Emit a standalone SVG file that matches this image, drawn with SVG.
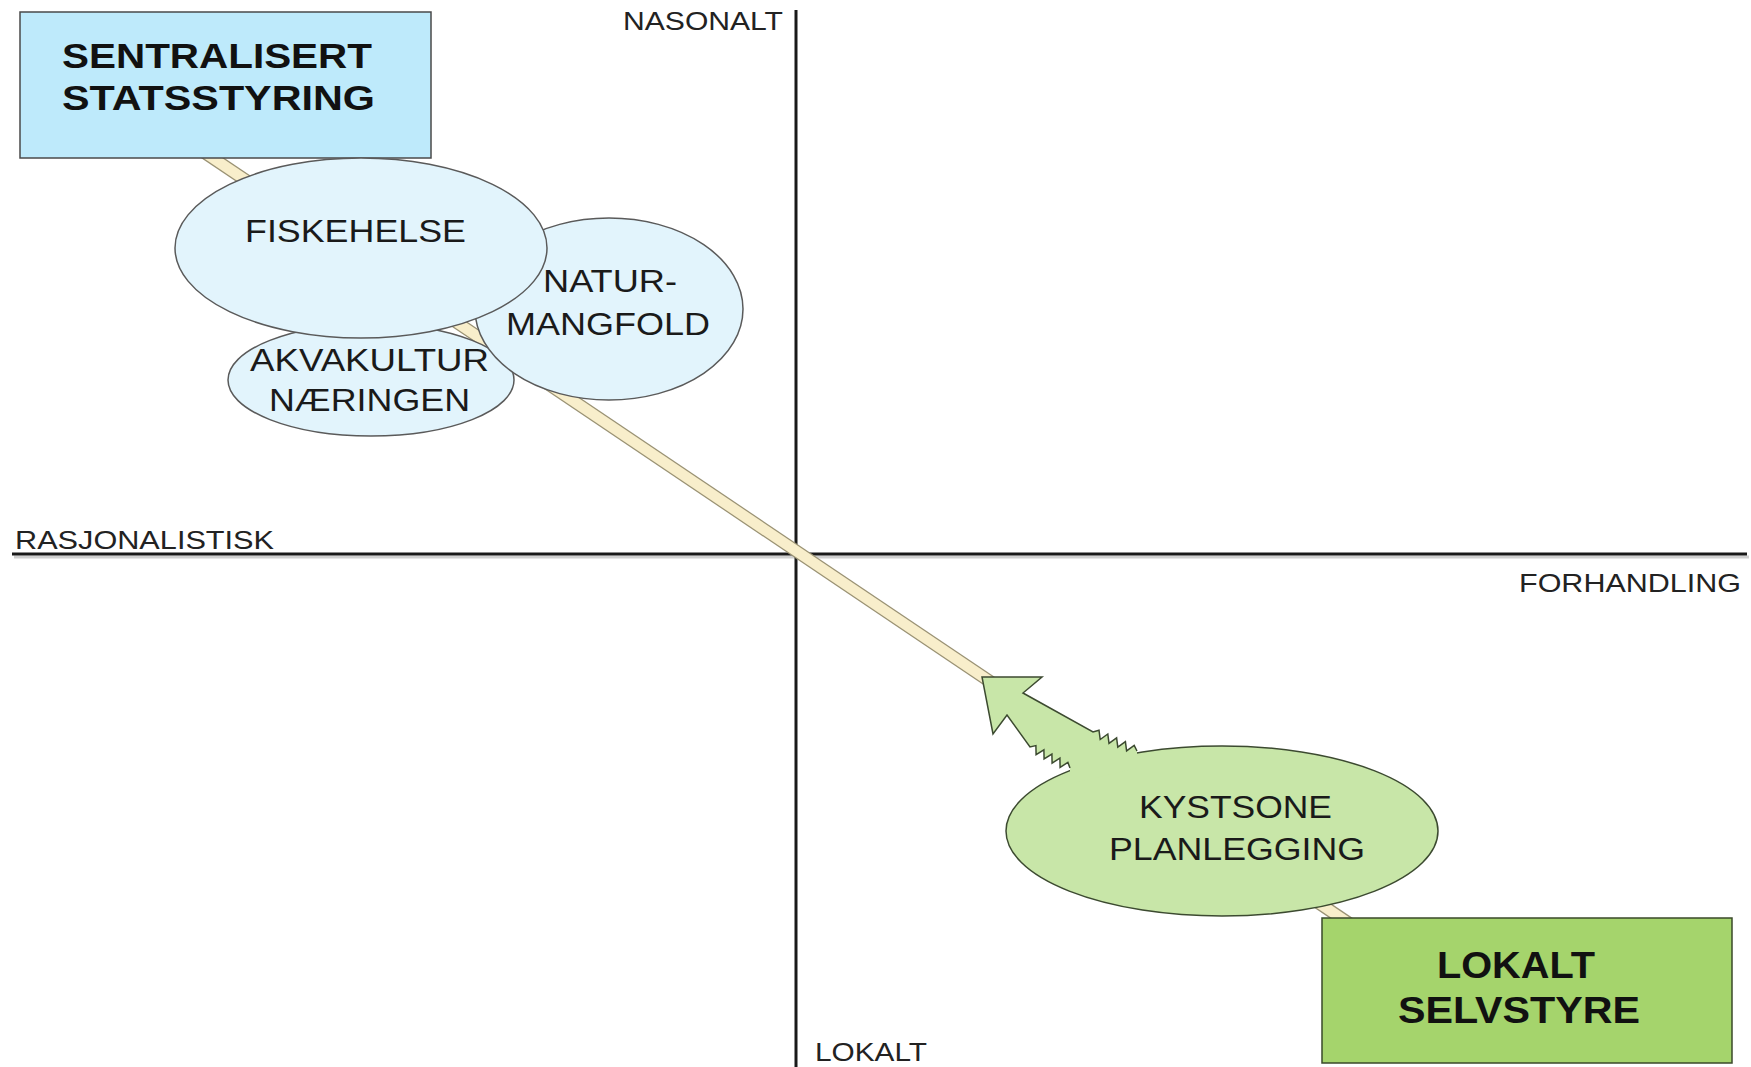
<svg xmlns="http://www.w3.org/2000/svg" width="1751" height="1067" viewBox="0 0 1751 1067">
<style>
  .ax { stroke:#1a1a1a; stroke-width:3; fill:none; }
  .axs { stroke:#d0d0d0; stroke-width:3; fill:none; }
  .lbl { font-family:"Liberation Sans", Arial, sans-serif; font-size:25px; fill:#222; }
  .etx { font-family:"Liberation Sans", Arial, sans-serif; font-size:31px; fill:#1a1a1a; text-anchor:start; }
  .btx { font-family:"Liberation Sans", Arial, sans-serif; font-weight:bold; fill:#111; }
  .blue { fill:#E2F4FC; stroke:#5a5a5a; stroke-width:1.5; }
  .green { fill:#C8E6A8; stroke:#3c4a30; stroke-width:1.5; }
</style>
<rect x="0" y="0" width="1751" height="1067" fill="#ffffff"/>

<g id="axes">
  <line class="axs" x1="14" y1="557" x2="1749" y2="557"/>
  <line class="ax" x1="12" y1="554" x2="1747" y2="554"/>
  <line class="ax" x1="796" y1="10" x2="796" y2="1067"/>
  <text class="lbl" x="623" y="30" textLength="160" lengthAdjust="spacingAndGlyphs">NASONALT</text>
  <text class="lbl" x="15" y="549" textLength="259" lengthAdjust="spacingAndGlyphs">RASJONALISTISK</text>
  <text class="lbl" x="1519" y="592" textLength="222" lengthAdjust="spacingAndGlyphs">FORHANDLING</text>
  <text class="lbl" x="815" y="1061" textLength="112" lengthAdjust="spacingAndGlyphs">LOKALT</text>
</g>

<g id="connectors">
  <line x1="180" y1="136" x2="1350" y2="924" stroke="#9a9274" stroke-width="13"/>
  <line x1="180" y1="136" x2="1350" y2="924" stroke="#F8EECB" stroke-width="10.5"/>
</g>

<g id="node-sentralisert">
  <rect x="20" y="12" width="411" height="146" fill="#BEEAFB" stroke="#4a4a4a" stroke-width="1.5"/>
  <text class="btx" x="62" y="68" font-size="35" textLength="310" lengthAdjust="spacingAndGlyphs">SENTRALISERT</text>
  <text class="btx" x="62" y="110" font-size="35" textLength="313" lengthAdjust="spacingAndGlyphs">STATSSTYRING</text>
</g>

<g id="node-akvakultur">
  <ellipse class="blue" cx="371" cy="380" rx="143" ry="56"/>
</g>
<g id="node-naturmangfold">
  <ellipse class="blue" cx="609" cy="309" rx="134" ry="91"/>
</g>
<g id="node-fiskehelse">
  <ellipse class="blue" cx="361" cy="248" rx="186" ry="90"/>
  <text class="etx" x="245" y="242" textLength="221" lengthAdjust="spacingAndGlyphs">FISKEHELSE</text>
</g>
<g id="labels-blue">
  <text class="etx" x="543" y="292" textLength="134" lengthAdjust="spacingAndGlyphs">NATUR-</text>
  <text class="etx" x="506" y="335" textLength="204" lengthAdjust="spacingAndGlyphs">MANGFOLD</text>
  <text class="etx" x="250" y="371" textLength="239" lengthAdjust="spacingAndGlyphs">AKVAKULTUR</text>
  <text class="etx" x="269" y="411" textLength="201" lengthAdjust="spacingAndGlyphs">NÆRINGEN</text>
</g>

<g id="node-kystsone">
  <ellipse class="green" cx="1222" cy="831" rx="216" ry="85"/>
  <path fill="#C8E6A8" stroke="none" d="M1070,768 L1067.9,762.4 L1060.1,767.3 L1059.9,758.2 L1052.1,763.1 L1051.9,754 L1044.1,758.9 L1043.9,749.8 L1036.1,754.7 L1035.9,745.6 L1030,747 L1007,715 L993,734 L982,677 L1042,677 L1023,693 L1093,732 L1099,730.2 L1100.2,739.5 L1107.8,734 L1109,743.3 L1116.6,737.8 L1117.8,747.1 L1125.4,741.6 L1126.6,750.9 L1134.2,745.4 L1137,751 L1137,768 L1070,784 Z"/>
  <path fill="none" stroke="#3c4a30" stroke-width="1.5" stroke-linejoin="miter" d="M1070,768 L1067.9,762.4 L1060.1,767.3 L1059.9,758.2 L1052.1,763.1 L1051.9,754 L1044.1,758.9 L1043.9,749.8 L1036.1,754.7 L1035.9,745.6 L1030,747 L1007,715 L993,734 L982,677 L1042,677 L1023,693 L1093,732 L1099,730.2 L1100.2,739.5 L1107.8,734 L1109,743.3 L1116.6,737.8 L1117.8,747.1 L1125.4,741.6 L1126.6,750.9 L1134.2,745.4 L1137,751"/>
  <text class="etx" x="1139" y="818" textLength="193" lengthAdjust="spacingAndGlyphs">KYSTSONE</text>
  <text class="etx" x="1109" y="860" textLength="256" lengthAdjust="spacingAndGlyphs">PLANLEGGING</text>
</g>

<g id="node-lokalt">
  <rect x="1322" y="918" width="410" height="145" fill="#A5D46C" stroke="#3a4a2a" stroke-width="1.5"/>
  <text class="btx" x="1437" y="978" font-size="37" textLength="158" lengthAdjust="spacingAndGlyphs">LOKALT</text>
  <text class="btx" x="1398" y="1023" font-size="37" textLength="242" lengthAdjust="spacingAndGlyphs">SELVSTYRE</text>
</g>
</svg>
